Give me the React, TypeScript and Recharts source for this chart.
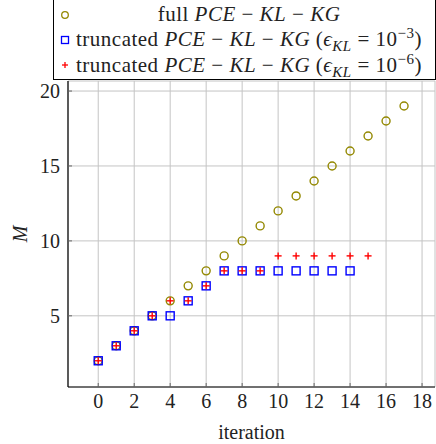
import React from "react";
import {
  ScatterChart, Scatter, XAxis, YAxis, CartesianGrid, Legend,
} from "recharts";

const iterFull = [0, 1, 2, 3, 4, 5, 6, 7, 8, 9, 10, 11, 12, 13, 14, 15, 16, 17];
const mFull = [2, 3, 4, 5, 6, 7, 8, 9, 10, 11, 12, 13, 14, 15, 16, 17, 18, 19];

const iterTrunc3 = [0, 1, 2, 3, 4, 5, 6, 7, 8, 9, 10, 11, 12, 13, 14];
const mTrunc3 = [2, 3, 4, 5, 5, 6, 7, 8, 8, 8, 8, 8, 8, 8, 8];

const iterTrunc6 = [0, 1, 2, 3, 4, 5, 6, 7, 8, 9, 10, 11, 12, 13, 14, 15];
const mTrunc6 = [2, 3, 4, 5, 6, 6, 7, 8, 8, 8, 9, 9, 9, 9, 9, 9];

const xTicks = [0, 2, 4, 6, 8, 10, 12, 14, 16, 18];
const yTicks = [5, 10, 15, 20];

const fullData = iterFull.map((x, i) => ({ x, y: mFull[i] }));
const trunc3Data = iterTrunc3.map((x, i) => ({ x, y: mTrunc3[i] }));
const trunc6Data = iterTrunc6.map((x, i) => ({ x, y: mTrunc6[i] }));

const OLIVE = "#938800";
const BLUE = "#0000ff";
const RED = "#ff0000";
const FONT = "'Liberation Serif', 'DejaVu Serif', serif";
const TICK = "#666";

const Circle = ({ cx, cy }: any) => (
  <circle cx={cx} cy={cy} r={4} fill="none" stroke={OLIVE} strokeWidth={1.4} />
);
const Square = ({ cx, cy }: any) => (
  <rect x={cx - 4} y={cy - 4} width={8} height={8} fill="none" stroke={BLUE} strokeWidth={1.4} />
);
const Plus = ({ cx, cy }: any) => (
  <g stroke={RED} strokeWidth={1.4}>
    <line x1={cx - 3.5} y1={cy} x2={cx + 3.5} y2={cy} />
    <line x1={cx} y1={cy - 3.5} x2={cx} y2={cy + 3.5} />
  </g>
);

const BottomTick = ({ x, y, payload }: any) => (
  <g>
    <line x1={x} y1={y} x2={x} y2={y - 4} stroke={TICK} />
    <text x={x} y={y} dy={21} textAnchor="middle" fontSize={20} fontFamily={FONT} fill="#222">
      {payload.value}
    </text>
  </g>
);
const TopTick = ({ x, y }: any) => (
  <line x1={x} y1={y} x2={x} y2={y + 4} stroke={TICK} />
);
const LeftTick = ({ x, y, payload }: any) => (
  <g>
    <line x1={x} y1={y} x2={x + 4} y2={y} stroke={TICK} />
    <text x={x - 8} y={y} dy={7} textAnchor="end" fontSize={20} fontFamily={FONT} fill="#222">
      {payload.value}
    </text>
  </g>
);
const RightTick = ({ x, y }: any) => (
  <line x1={x} y1={y} x2={x - 4} y2={y} stroke={TICK} />
);

const YLabel = ({ viewBox }: any) => {
  const x = viewBox.x + 27;
  const y = viewBox.y + viewBox.height / 2;
  return (
    <text x={x} y={y} transform={`rotate(-90 ${x} ${y})`} textAnchor="middle"
      fontSize={20} fontFamily={FONT} fontStyle="italic" fill="#222">M</text>
  );
};

const Formula = () => (
  <span>
    <i>PCE</i>&nbsp;−&nbsp;<i>KL</i>&nbsp;−&nbsp;<i>KG</i>
  </span>
);

const Eps = ({ exp }: { exp: string }) => (
  <span>
    (<i>ϵ</i><sub style={{ fontSize: 15, lineHeight: 0 }}><i>KL</i></sub>&nbsp;=&nbsp;10<sup style={{ fontSize: 15, lineHeight: 0 }}>{exp}</sup>)
  </span>
);

const legendRows = [
  { marker: "circle", text: <span>full <Formula /></span> },
  { marker: "square", text: <span>truncated <Formula /> <Eps exp="−3" /></span> },
  { marker: "plus", text: <span>truncated <Formula /> <Eps exp="−6" /></span> },
];

const LegendMarker = ({ kind }: { kind: string }) => (
  <svg width={12} height={12} style={{ display: "block" }}>
    {kind === "circle" && <circle cx={6} cy={6} r={3.3} fill="none" stroke={OLIVE} strokeWidth={1.3} />}
    {kind === "square" && <rect x={2.5} y={2.5} width={7} height={7} fill="none" stroke={BLUE} strokeWidth={1.3} />}
    {kind === "plus" && (
      <g stroke={RED} strokeWidth={1.3}>
        <line x1={3} y1={6} x2={9} y2={6} />
        <line x1={6} y1={3} x2={6} y2={9} />
      </g>
    )}
  </svg>
);

const LegendBox = () => (
  <div
    style={{
      boxSizing: "border-box",
      width: 383,
      height: 81,
      border: "1px solid #000",
      background: "#fff",
      paddingTop: 2,
      fontFamily: FONT,
      fontSize: 21,
      letterSpacing: 0.5,
      color: "#222",
    }}
  >
    {legendRows.map((r, i) => (
      <div key={i} style={{ display: "flex", alignItems: "center", height: 25.3 }}>
        <div style={{ width: 17, display: "flex", justifyContent: "flex-end" }}>
          <LegendMarker kind={r.marker} />
        </div>
        <div style={{ flex: 1, textAlign: "center", paddingRight: 8, whiteSpace: "nowrap", lineHeight: "25px" }}>
          {r.text}
        </div>
      </div>
    ))}
  </div>
);

export default function App() {
  return (
    <div style={{ position: "absolute", left: 0, top: 0 }}>
      <ScatterChart width={436} height={444} margin={{ top: 81, right: 1, left: 0, bottom: 0 }}>
        <CartesianGrid xAxisId="b" yAxisId="l" stroke="#c4c4c4" strokeWidth={1} />
        <XAxis
          xAxisId="b"
          type="number"
          dataKey="x"
          domain={[-1.68, 18.72]}
          ticks={xTicks}
          allowDataOverflow
          height={57}
          tickSize={0}
          tickMargin={0}
          tickLine={false}
          axisLine={{ stroke: "#000", strokeWidth: 1.2 }}
          tick={<BottomTick />}
          interval={0}
          label={{ value: "iteration", position: "insideBottom", offset: 5, fontSize: 20, fontFamily: FONT, fill: "#222" }}
        />
        <XAxis
          xAxisId="t"
          orientation="top"
          type="number"
          dataKey="x"
          domain={[-1.68, 18.72]}
          ticks={xTicks}
          allowDataOverflow
          height={0}
          tickSize={0}
          tickMargin={0}
          tickLine={false}
          axisLine={{ stroke: "#000", strokeWidth: 1.2 }}
          tick={<TopTick />}
          interval={0}
        />
        <YAxis
          yAxisId="l"
          type="number"
          dataKey="y"
          domain={[0.25, 20.67]}
          ticks={yTicks}
          allowDataOverflow
          width={68}
          tickSize={0}
          tickMargin={0}
          tickLine={false}
          axisLine={{ stroke: "#000", strokeWidth: 1.2 }}
          tick={<LeftTick />}
          interval={0}
          label={<YLabel />}
        />
        <YAxis
          yAxisId="r"
          orientation="right"
          type="number"
          dataKey="y"
          domain={[0.25, 20.67]}
          ticks={yTicks}
          allowDataOverflow
          width={0}
          tickSize={0}
          tickMargin={0}
          tickLine={false}
          axisLine={{ stroke: "#000", strokeWidth: 1.2 }}
          tick={<RightTick />}
          interval={0}
        />
        <Scatter xAxisId="b" yAxisId="l" name="full" data={fullData} shape={<Circle />} isAnimationActive={false} />
        <Scatter xAxisId="b" yAxisId="l" name="trunc3" data={trunc3Data} shape={<Square />} isAnimationActive={false} />
        <Scatter xAxisId="b" yAxisId="l" name="trunc6" data={trunc6Data} shape={<Plus />} isAnimationActive={false} />
        <Legend
          layout="vertical"
          align="center"
          verticalAlign="middle"
          wrapperStyle={{ left: 53, top: -1, width: 383, height: 81 }}
          content={() => <LegendBox />}
        />
      </ScatterChart>
    </div>
  );
}
